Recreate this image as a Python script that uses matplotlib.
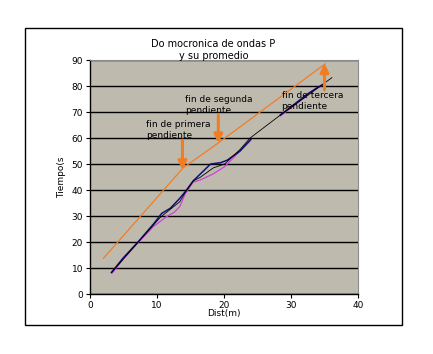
import matplotlib
matplotlib.use("Agg")
import matplotlib.pyplot as plt
import numpy as np
from matplotlib.patches import Rectangle

# measured travel times (two readings) and their average
dist_a = [3.2, 5.0, 7.2, 9.5, 10.7, 12.0, 13.4, 14.2, 15.4, 16.6, 18.0, 19.5,
          20.5, 22.4, 24.0, np.nan, 28.4, 30.5, 32.5, 34.0, 35.1]
time_a = [8.3, 14.0, 20.1, 27.0, 31.0, 33.0, 36.8, 39.3, 43.5, 46.5, 50.0, 50.5,
          51.5, 55.0, 59.5, np.nan, 68.8, 73.0, 77.0, 79.5, 81.0]
dist_b = [3.3, 5.0, 7.2, 9.5, 11.4, 12.6, 13.4, 14.2, 15.4, 16.4, 18.4, 20.1,
          22.4, 24.0, np.nan, 28.4, 30.5, 33.0, 35.0]
time_b = [8.0, 13.5, 19.8, 26.0, 29.7, 31.5, 33.6, 38.5, 43.0, 43.8, 46.2, 49.0,
          55.0, 59.0, np.nan, 68.5, 72.5, 77.5, 81.0]
dist_avg = [3.2, 7.2, 10.5, 13.4, 14.2, 15.4, 16.4, 18.4, 20.1, 22.4, 23.9,
            28.4, 32.0, 36.1]
time_avg = [8.2, 20.0, 29.5, 35.5, 39.0, 43.5, 44.8, 48.5, 50.0, 55.6, 60.0,
            68.8, 75.5, 83.2]

# fitted slopes
dist_fit = [2.0, 13.9, 19.1, 35.1]
time_fit = [13.7, 48.5, 58.0, 88.5]

# (x, y_from, y_to, label, label_x, label_y)
marks = [
    (13.8, 59.2, 47.7, "fin de primera\npendiente", 8.4, 67.0),
    (19.15, 68.8, 58.0, "fin de segunda\npendiente", 14.2, 76.5),
    (35.0, 78.5, 88.7, "fin de tercera\npendiente", 28.6, 78.0),
]

ORANGE = "#F07D24"

fig = plt.figure(figsize=(4.33, 3.54), dpi=100)
fig.patches.append(Rectangle((25 / 433, 1 - 325 / 354), 377 / 433, 297 / 354,
                             transform=fig.transFigure, fill=False,
                             edgecolor="black", lw=1.0))
ax = fig.add_axes([90 / 433, 1 - 294 / 354, 268 / 433, 234 / 354])
ax.set_facecolor("#bebbae")

ax.plot(dist_fit, time_fit, color=ORANGE, lw=0.9)
ax.plot(dist_b, time_b, color="#d040d8", lw=0.9)
ax.plot(dist_a, time_a, color="#10107a", lw=1.1)
ax.plot(dist_avg, time_avg, color="black", lw=0.6)

for x, y0, y1, label, lx, ly in marks:
    ax.annotate("", xy=(x, y1), xytext=(x, y0),
                arrowprops=dict(arrowstyle="-|>,head_width=0.25,head_length=0.5",
                                color=ORANGE, lw=2.2, shrinkA=0, shrinkB=0))
    ax.text(lx, ly, label, fontsize=6.5, va="top", ha="left",
            linespacing=1.3)

ax.set_xlim(0, 40)
ax.set_ylim(0, 90)
ax.set_xticks(range(0, 41, 10))
ax.set_yticks(range(0, 91, 10))
ax.yaxis.grid(True, color="black", lw=1)
ax.set_axisbelow(True)
ax.tick_params(labelsize=6.5, length=3, width=0.8, direction="out", pad=2)
for side in ("top", "right"):
    ax.spines[side].set_color("#8c8c8c")
for side in ("left", "bottom"):
    ax.spines[side].set_linewidth(1)

ax.set_xlabel("Dist(m)", fontsize=6.5, labelpad=-1)
ax.set_ylabel("Tiempo(s", fontsize=6.5, labelpad=4)
fig.text(213.5 / 433, 1 - 50 / 354, "Do mocronica de ondas P\ny su promedio",
         ha="center", va="center", fontsize=7, linespacing=1.2)

fig.savefig("out.png", dpi=100)
